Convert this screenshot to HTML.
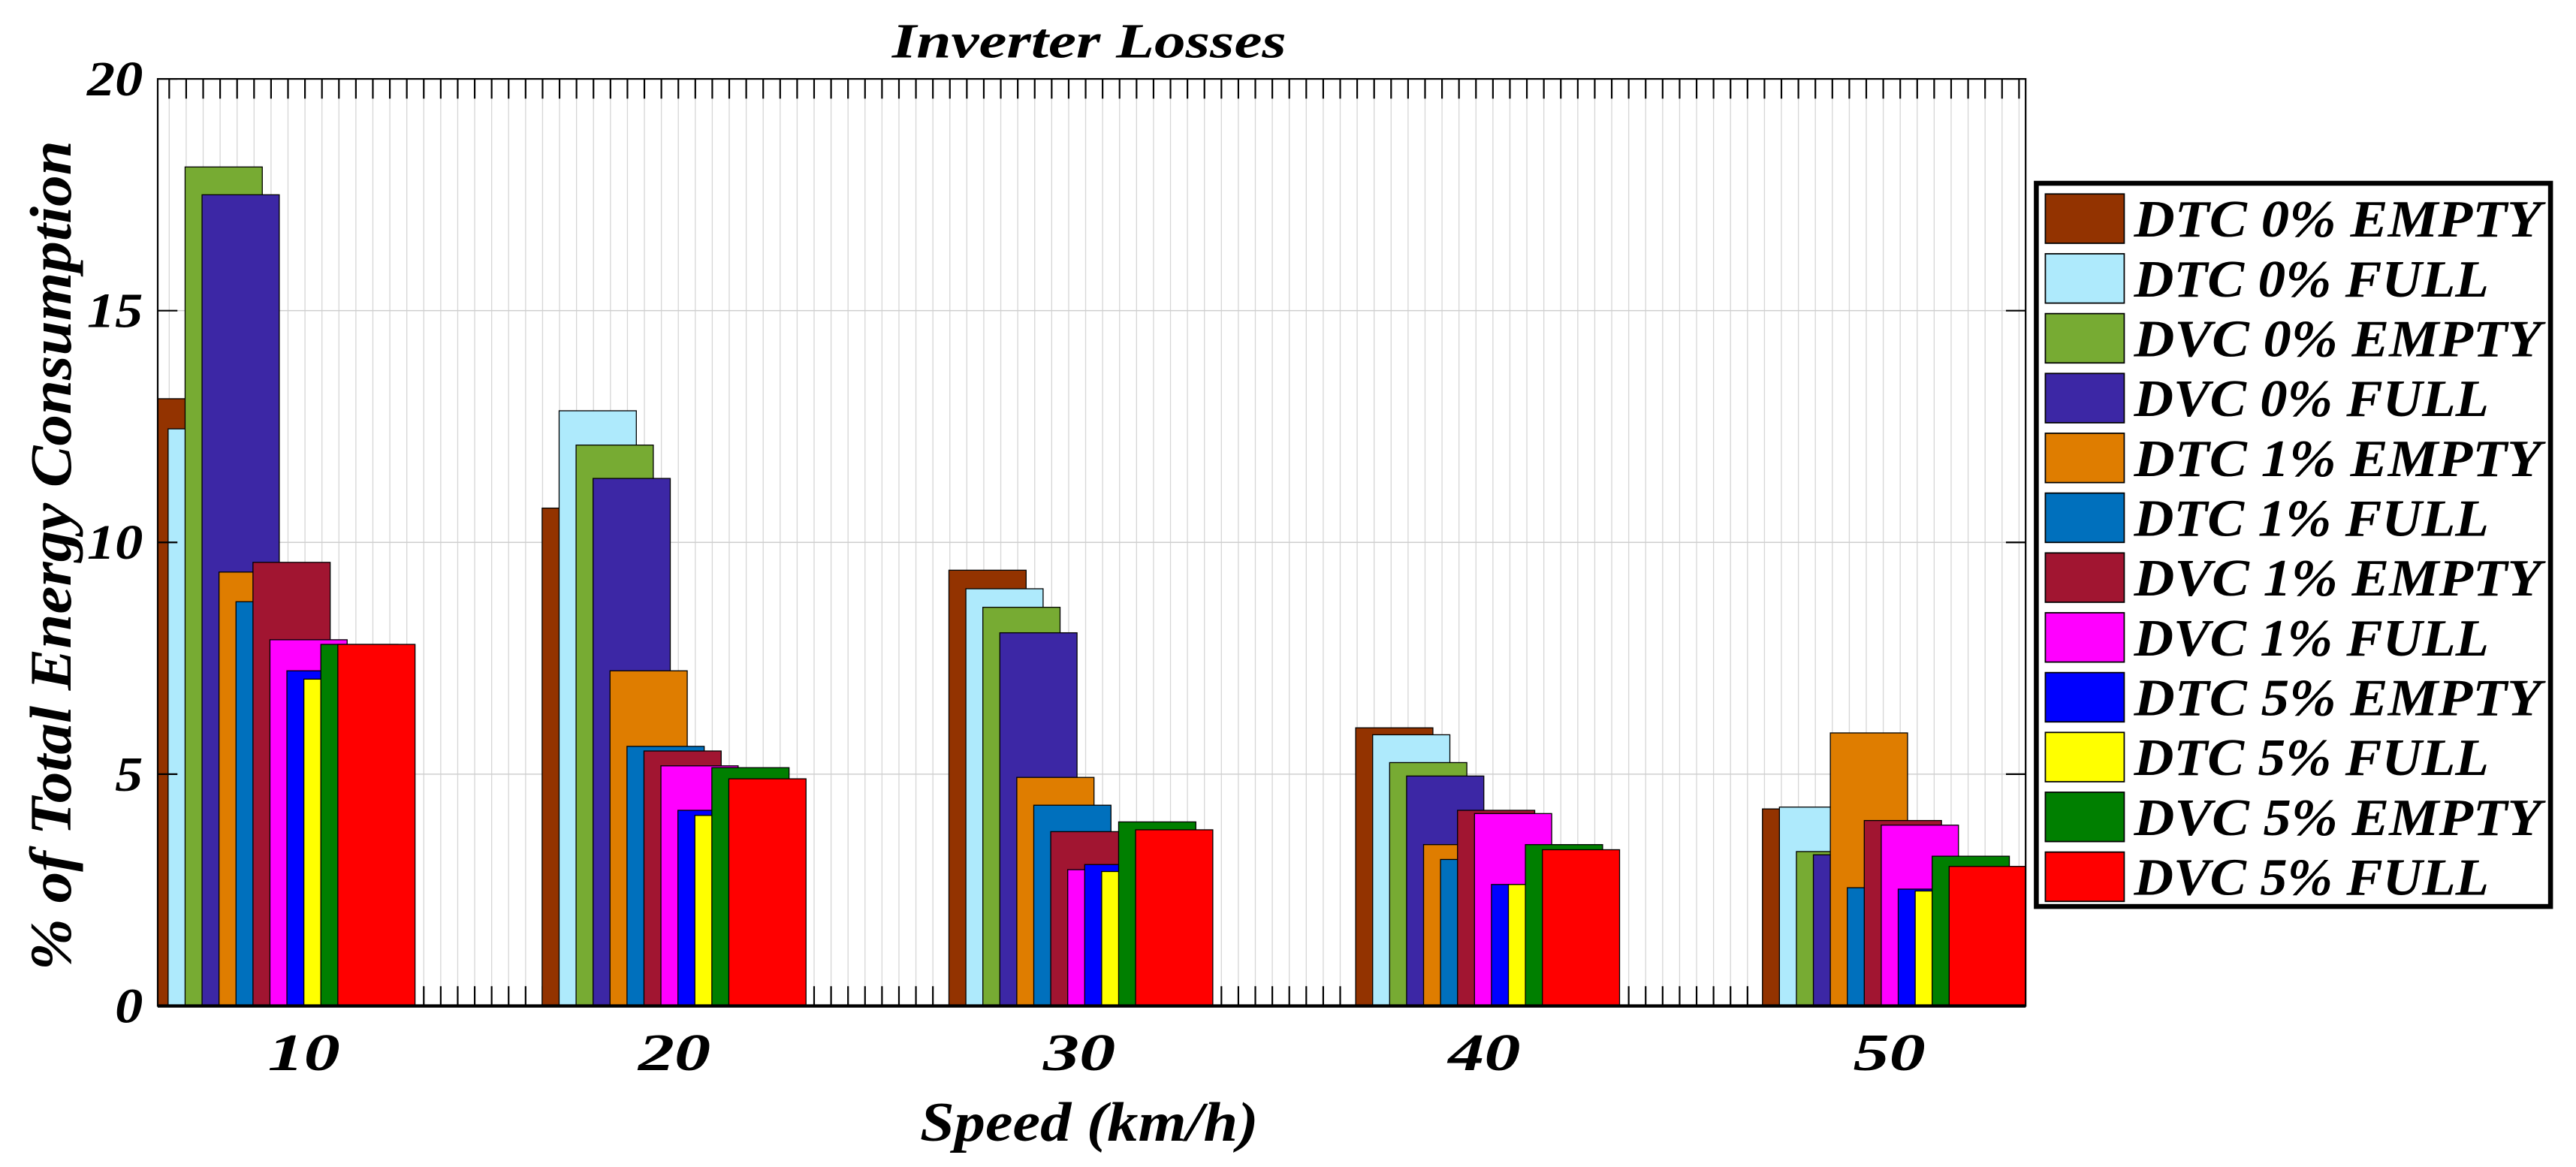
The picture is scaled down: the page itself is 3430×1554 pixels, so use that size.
<!DOCTYPE html>
<html><head><meta charset="utf-8"><style>
html,body{margin:0;padding:0;background:#fff}
svg{display:block}
text{font-family:"Liberation Serif",serif;font-weight:bold;font-style:italic;fill:#000}
</style></head><body>
<svg id="chart" width="3430" height="1554" viewBox="0 0 1568 710" preserveAspectRatio="none" xmlns="http://www.w3.org/2000/svg">
<defs><clipPath id="pc"><rect x="96" y="48" width="1137" height="564"/></clipPath></defs>
<rect x="96" y="48" width="1137" height="564" fill="#fff"/>
<g id="grid"></g>
<g id="bars" clip-path="url(#pc)"></g>
<g id="axes"></g>
<text x="663" y="35" font-size="30" text-anchor="middle" textLength="240" lengthAdjust="spacingAndGlyphs">Inverter Losses</text>
<text x="663" y="694" font-size="34" text-anchor="middle" textLength="206" lengthAdjust="spacingAndGlyphs">Speed (km/h)</text>
<text transform="translate(43,338) rotate(-90)" font-size="36" text-anchor="middle" textLength="505" lengthAdjust="spacingAndGlyphs">% of Total Energy Consumption</text>
<g id="legend"></g>
</svg>
<script>
const categories=[10,20,30,40,50];
const seriesNames=["DTC 0% EMPTY","DTC 0% FULL","DVC 0% EMPTY","DVC 0% FULL","DTC 1% EMPTY","DTC 1% FULL","DVC 1% EMPTY","DVC 1% FULL","DTC 5% EMPTY","DTC 5% FULL","DVC 5% EMPTY","DVC 5% FULL"];
const seriesColors=["#933300","#aeeafc","#77ab33","#3c27a5","#df7d00","#0070bd","#a11531","#ff00ff","#0000ff","#ffff00","#007f00","#ff0000"];
const dtc0Empty=[13.1,10.74,9.4,6.0,4.25];
const dtc0Full=[12.45,12.84,9.0,5.85,4.29];
const dvc0Empty=[18.1,12.1,8.6,5.25,3.33];
const dvc0Full=[17.5,11.38,8.05,4.96,3.26];
const dtc1Empty=[9.36,7.23,4.93,3.48,5.89];
const dtc1Full=[8.72,5.6,4.33,3.16,2.55];
const dvc1Empty=[9.57,5.5,3.76,4.22,4.0];
const dvc1Full=[7.9,5.18,2.94,4.15,3.9];
const dtc5Empty=[7.23,4.22,3.05,2.62,2.52];
const dtc5Full=[7.05,4.11,2.9,2.62,2.48];
const dvc5Empty=[7.8,5.14,3.97,3.48,3.23];
const dvc5Full=[7.8,4.9,3.8,3.37,3.01];
const yTicks=[0,5,10,15,20];
const series=[dtc0Empty,dtc0Full,dvc0Empty,dvc0Full,dtc1Empty,dtc1Full,dvc1Empty,dvc1Full,dtc5Empty,dtc5Full,dvc5Empty,dvc5Full];

const NS="http://www.w3.org/2000/svg";
const L=96,R=1233,T=48,B=612;
const y=v=>B-(v/20)*(B-T);
const groupStart=c=>c<=10?92+(c-10)/10*238:330+(c-20)/10*247.6;
const STEP=10.33, BW=47;
const xBar=(c,i)=>groupStart(c)+i*STEP;
const xLabel=c=>c<=10?185:410.5+(c-20)/10*246.5;
function mk(tag,attrs,parent){const e=document.createElementNS(NS,tag);for(const k in attrs)e.setAttribute(k,attrs[k]);parent.appendChild(e);return e;}

const grid=document.getElementById('grid');
for(let x=103;x<R;x+=STEP){const l=mk('line',{x1:x,x2:x,y1:T,y2:B,stroke:'#d6d6d6','stroke-width':0.6},grid);

}
yTicks.forEach(t=>{if(t===0||t===20)return;const l=mk('line',{x1:L,x2:R,y1:y(t),y2:y(t),stroke:'#cfcfcf','stroke-width':0.7},grid);

});
for(let x=103;x<R;x+=STEP){
const a=mk('line',{x1:x,x2:x,y1:T,y2:T+12,stroke:'#000','stroke-width':1},grid);


const b=mk('line',{x1:x,x2:x,y1:B,y2:B-12,stroke:'#000','stroke-width':1},grid);

}

const bars=document.getElementById('bars');
categories.forEach((c,ci)=>{series.forEach((s,si)=>{
const r=mk('rect',{x:xBar(c,si),y:y(s[ci]),width:BW,height:B-y(s[ci]),fill:seriesColors[si],stroke:'#000','stroke-width':0.6},bars);

});});

const axes=document.getElementById('axes');
const fr=mk('rect',{x:L,y:T,width:R-L,height:B-T,fill:'none',stroke:'#000','stroke-width':1},axes);


const bl=mk('line',{x1:L,x2:R,y1:B,y2:B,stroke:'#000','stroke-width':2},axes);


yTicks.forEach(t=>{
const tk=mk('line',{x1:L,x2:L+12,y1:y(t),y2:y(t),stroke:'#000','stroke-width':1},axes);


const tk2=mk('line',{x1:R,x2:R-12,y1:y(t),y2:y(t),stroke:'#000','stroke-width':1},axes);


const s=String(t);
const tx=mk('text',{x:87,y:y(t)+10,'font-size':30,'text-anchor':'end',textLength:s.length*17,lengthAdjust:'spacingAndGlyphs'},axes);tx.textContent=s;

});
categories.forEach(c=>{const tx=mk('text',{x:xLabel(c),y:651,'font-size':32,'text-anchor':'middle',textLength:44,lengthAdjust:'spacingAndGlyphs'},axes);tx.textContent=c;

});

const lg=document.getElementById('legend');
const lb=mk('rect',{x:1239.5,y:111.5,width:313,height:440,fill:'#fff',stroke:'#000','stroke-width':3},lg);


seriesNames.forEach((n,i)=>{const cy=133+i*36.4;
const sw=mk('rect',{x:1245,y:cy-15,width:48,height:30,fill:seriesColors[i],stroke:'#000','stroke-width':0.8},lg);


const tx=mk('text',{x:1299,y:cy+11,'font-size':32,textLength:(n.endsWith('FULL')?216:248),lengthAdjust:'spacingAndGlyphs'},lg);tx.textContent=n;

});
</script>
</body></html>
